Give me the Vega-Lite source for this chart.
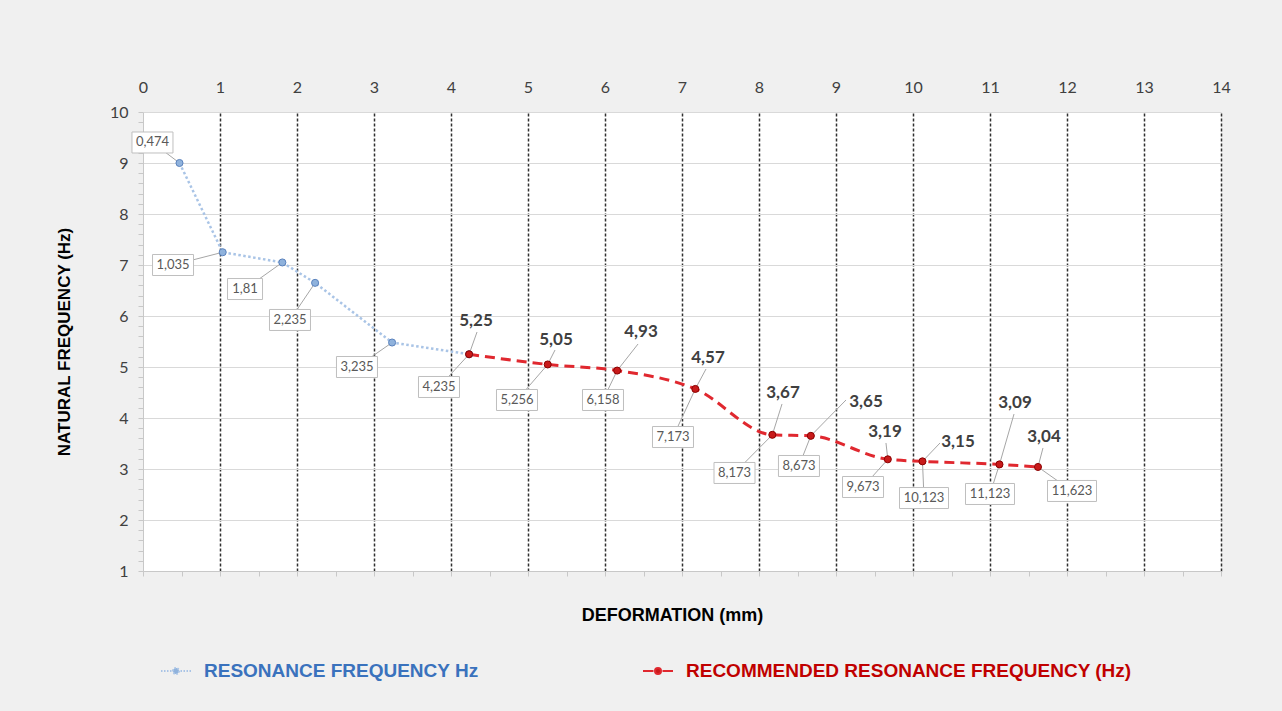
{
  "$schema": "https://vega.github.io/schema/vega-lite/v6.json",
  "width": 1078,
  "height": 459,
  "autosize": {"type": "none"},
  "padding": {"left": 143, "top": 112, "right": 61, "bottom": 140},
  "background": "#f0f0f0",
  "config": {"view": {"fill": "#ffffff", "stroke": null}, "font": "Lato"},
  "datasets": {
    "pts": [
      {"s": "RESONANCE FREQUENCY Hz", "x": 0.474, "f": 9.0},
      {"s": "RESONANCE FREQUENCY Hz", "x": 1.035, "f": 7.25},
      {"s": "RESONANCE FREQUENCY Hz", "x": 1.81, "f": 7.05},
      {"s": "RESONANCE FREQUENCY Hz", "x": 2.235, "f": 6.65},
      {"s": "RESONANCE FREQUENCY Hz", "x": 3.235, "f": 5.48},
      {"s": "RESONANCE FREQUENCY Hz", "x": 4.235, "f": 5.25},
      {"s": "RECOMMENDED RESONANCE FREQUENCY (Hz)", "x": 4.235, "f": 5.25},
      {"s": "RECOMMENDED RESONANCE FREQUENCY (Hz)", "x": 5.256, "f": 5.05},
      {"s": "RECOMMENDED RESONANCE FREQUENCY (Hz)", "x": 6.158, "f": 4.93},
      {"s": "RECOMMENDED RESONANCE FREQUENCY (Hz)", "x": 7.173, "f": 4.57},
      {"s": "RECOMMENDED RESONANCE FREQUENCY (Hz)", "x": 8.173, "f": 3.67},
      {"s": "RECOMMENDED RESONANCE FREQUENCY (Hz)", "x": 8.673, "f": 3.65},
      {"s": "RECOMMENDED RESONANCE FREQUENCY (Hz)", "x": 9.673, "f": 3.19},
      {"s": "RECOMMENDED RESONANCE FREQUENCY (Hz)", "x": 10.123, "f": 3.15},
      {"s": "RECOMMENDED RESONANCE FREQUENCY (Hz)", "x": 11.123, "f": 3.09},
      {"s": "RECOMMENDED RESONANCE FREQUENCY (Hz)", "x": 11.623, "f": 3.04}
    ],
    "blab": [
      {"x": 0.474, "f": 9.0, "bl": "0,474", "bx": 0.123, "by": 9.402},
      {"x": 1.035, "f": 7.25, "bl": "1,035", "bx": 0.39, "by": 7.0},
      {"x": 1.81, "f": 7.05, "bl": "1,81", "bx": 1.325, "by": 6.529},
      {"x": 2.235, "f": 6.65, "bl": "2,235", "bx": 1.909, "by": 5.922},
      {"x": 3.235, "f": 5.48, "bl": "3,235", "bx": 2.779, "by": 5.0},
      {"x": 4.235, "f": 5.25, "bl": "4,235", "bx": 3.844, "by": 4.608},
      {"x": 5.256, "f": 5.05, "bl": "5,256", "bx": 4.857, "by": 4.353},
      {"x": 6.158, "f": 4.93, "bl": "6,158", "bx": 5.974, "by": 4.353},
      {"x": 7.173, "f": 4.57, "bl": "7,173", "bx": 6.883, "by": 3.627},
      {"x": 8.173, "f": 3.67, "bl": "8,173", "bx": 7.682, "by": 2.922},
      {"x": 8.673, "f": 3.65, "bl": "8,673", "bx": 8.519, "by": 3.059},
      {"x": 9.673, "f": 3.19, "bl": "9,673", "bx": 9.351, "by": 2.647},
      {"x": 10.123, "f": 3.15, "bl": "10,123", "bx": 10.143, "by": 2.431},
      {"x": 11.123, "f": 3.09, "bl": "11,123", "bx": 11.0, "by": 2.51},
      {"x": 11.623, "f": 3.04, "bl": "11,623", "bx": 12.065, "by": 2.569}
    ],
    "vlab": [
      {"x": 4.235, "f": 5.25, "vl": "5,25", "vx": 4.325, "vy": 5.902, "lx": 4.338, "ly": 5.686},
      {"x": 5.256, "f": 5.05, "vl": "5,05", "vx": 5.364, "vy": 5.529, "lx": 5.351, "ly": 5.333},
      {"x": 6.158, "f": 4.93, "vl": "4,93", "vx": 6.468, "vy": 5.686, "lx": 6.429, "ly": 5.451},
      {"x": 7.173, "f": 4.57, "vl": "4,57", "vx": 7.338, "vy": 5.176, "lx": 7.312, "ly": 4.961},
      {"x": 8.173, "f": 3.67, "vl": "3,67", "vx": 8.312, "vy": 4.49, "lx": 8.299, "ly": 4.275},
      {"x": 8.673, "f": 3.65, "vl": "3,65", "vx": 9.39, "vy": 4.314, "lx": 9.13, "ly": 4.353},
      {"x": 9.673, "f": 3.19, "vl": "3,19", "vx": 9.636, "vy": 3.725, "lx": 9.649, "ly": 3.51},
      {"x": 10.123, "f": 3.15, "vl": "3,15", "vx": 10.584, "vy": 3.529, "lx": 10.351, "ly": 3.51},
      {"x": 11.123, "f": 3.09, "vl": "3,09", "vx": 11.325, "vy": 4.294, "lx": 11.312, "ly": 4.078},
      {"x": 11.623, "f": 3.04, "vl": "3,04", "vx": 11.701, "vy": 3.627, "lx": 11.688, "ly": 3.412}
    ]
  },
  "resolve": {"axis": {"x": "independent", "y": "independent"}},
  "layer": [
    {
      "data": {"name": "blab"},
      "mark": {"type": "rule", "color": "#a6a6a6", "strokeWidth": 1},
      "encoding": {
        "x": {"field": "x", "type": "quantitative", "scale": {"domain": [0, 14], "nice": false, "zero": false},
          "axis": {"orient": "bottom", "values": [0,0.5,1,1.5,2,2.5,3,3.5,4,4.5,5,5.5,6,6.5,7,7.5,8,8.5,9,9.5,10,10.5,11,11.5,12,12.5,13,13.5,14],
            "labels": false, "ticks": true, "tickSize": 5, "tickColor": "#c8c8c8", "domainColor": "#c8c8c8", "grid": false,
            "title": "DEFORMATION (mm)", "titleFont": "Liberation Sans", "titleFontSize": 18, "titleFontWeight": "bold", "titleColor": "#000000", "titlePadding": 30, "titleX": 529}},
        "y": {"field": "f", "type": "quantitative", "scale": {"domain": [1, 10], "nice": false, "zero": false},
          "axis": {"orient": "left", "values": [1,1.2,1.4,1.6,1.8,2,2.2,2.4,2.6,2.8,3,3.2,3.4,3.6,3.8,4,4.2,4.4,4.6,4.8,5,5.2,5.4,5.6,5.8,6,6.2,6.4,6.6,6.8,7,7.2,7.4,7.6,7.8,8,8.2,8.4,8.6,8.8,9,9.2,9.4,9.6,9.8,10],
            "labelExpr": "abs(datum.value - round(datum.value)) < 0.01 ? format(datum.value, 'd') : ''", "labelOverlap": false, "labelFlush": false,
            "labelFontSize": 16, "labelColor": "#404040", "labelPadding": 10, "tickSize": 5, "tickColor": "#c8c8c8", "domainColor": "#c8c8c8",
            "grid": true, "gridColor": "#d9d9d9", "gridOpacity": {"condition": {"test": "abs(datum.value - round(datum.value)) < 0.01", "value": 1}, "value": 0},
            "title": "NATURAL FREQUENCY (Hz)", "titleFont": "Liberation Sans", "titleFontSize": 17, "titleFontWeight": "bold", "titleColor": "#000000", "titlePadding": 36}},
        "x2": {"field": "bx"},
        "y2": {"field": "by"}
      }
    },
    {
      "data": {"name": "vlab"},
      "mark": {"type": "rule", "color": "#a6a6a6", "strokeWidth": 1},
      "encoding": {
        "x": {"field": "x", "type": "quantitative", "scale": {"domain": [0, 14], "nice": false, "zero": false}, "axis": null},
        "y": {"field": "f", "type": "quantitative", "scale": {"domain": [1, 10], "nice": false, "zero": false}, "axis": null},
        "x2": {"field": "lx"},
        "y2": {"field": "ly"}
      }
    },
    {
      "data": {"name": "pts"},
      "transform": [{"filter": "datum.s == 'RESONANCE FREQUENCY Hz'"}],
      "mark": {"type": "line", "strokeDash": [2.5, 2.5], "strokeWidth": 2.5},
      "encoding": {
        "x": {"field": "x", "type": "quantitative", "scale": {"domain": [0, 14], "nice": false, "zero": false},
          "axis": {"orient": "top", "values": [0,1,2,3,4,5,6,7,8,9,10,11,12,13,14], "ticks": false, "domain": false, "labelFlush": false,
            "labelFontSize": 16, "labelColor": "#404040", "labelPadding": 17,
            "grid": true, "gridColor": "#303030", "gridDash": [3, 2], "gridWidth": 1.5,
            "gridOpacity": {"condition": {"test": "datum.value == 0", "value": 0}, "value": 1}, "title": null}},
        "y": {"field": "f", "type": "quantitative", "scale": {"domain": [1, 10], "nice": false, "zero": false}, "axis": null},
        "color": {"field": "s", "type": "nominal",
          "scale": {"domain": ["RESONANCE FREQUENCY Hz", "RECOMMENDED RESONANCE FREQUENCY (Hz)"], "range": ["#a9c4e6", "#e0282f"]},
          "legend": {"orient": "none", "legendX": 17, "legendY": 543, "direction": "horizontal", "title": null,
            "symbolType": "M-1,0H-0.3M0.3,0H1M-0.2,0A0.2,0.2 0 1,1 0.2,0A0.2,0.2 0 1,1 -0.2,0Z",
            "symbolSize": 900, "symbolStrokeWidth": 2, "labelFont": "Liberation Sans", "labelFontSize": 19, "labelFontWeight": "bold",
            "labelOffset": 12, "columnPadding": 160, "padding": 0, "labelLimit": 600,
            "symbolFillColor": {"expr": "datum.value == 'RESONANCE FREQUENCY Hz' ? '#7fa3d3' : '#c00000'"},
            "symbolDash": {"expr": "datum.value == 'RESONANCE FREQUENCY Hz' ? [1.5,1.5] : [30,0]"},
            "labelColor": {"expr": "datum.value == 'RESONANCE FREQUENCY Hz' ? '#3a72bd' : '#c00000'"}
          }}
      }
    },
    {
      "data": {"name": "pts"},
      "transform": [{"filter": "datum.s == 'RECOMMENDED RESONANCE FREQUENCY (Hz)'"}],
      "mark": {"type": "line", "strokeDash": [10, 6], "strokeWidth": 3, "interpolate": "monotone"},
      "encoding": {
        "x": {"field": "x", "type": "quantitative", "scale": {"domain": [0, 14], "nice": false, "zero": false}, "axis": null},
        "y": {"field": "f", "type": "quantitative", "scale": {"domain": [1, 10], "nice": false, "zero": false}, "axis": null},
        "color": {"field": "s", "type": "nominal",
          "scale": {"domain": ["RESONANCE FREQUENCY Hz", "RECOMMENDED RESONANCE FREQUENCY (Hz)"], "range": ["#a9c4e6", "#e0282f"]}}
      }
    },
    {
      "data": {"name": "pts"},
      "mark": {"type": "point", "filled": true, "size": 50, "opacity": 1, "strokeWidth": 1},
      "encoding": {
        "x": {"field": "x", "type": "quantitative", "scale": {"domain": [0, 14], "nice": false, "zero": false}, "axis": null},
        "y": {"field": "f", "type": "quantitative", "scale": {"domain": [1, 10], "nice": false, "zero": false}, "axis": null},
        "fill": {"field": "s", "type": "nominal", "scale": {"domain": ["RESONANCE FREQUENCY Hz", "RECOMMENDED RESONANCE FREQUENCY (Hz)"], "range": ["#8fb2dc", "#c81a1a"]}, "legend": null},
        "stroke": {"field": "s", "type": "nominal", "scale": {"domain": ["RESONANCE FREQUENCY Hz", "RECOMMENDED RESONANCE FREQUENCY (Hz)"], "range": ["#5a82bd", "#8a0000"]}, "legend": null}
      }
    },
    {
      "data": {"name": "blab"},
      "transform": [{"calculate": "length(datum.bl)", "as": "len"}],
      "mark": {"type": "point", "filled": true, "size": 2500, "fill": "#ffffff", "stroke": "#bfbfbf", "strokeWidth": 1, "opacity": 1, "fillOpacity": 1},
      "encoding": {
        "x": {"field": "bx", "type": "quantitative", "scale": {"domain": [0, 14], "nice": false, "zero": false}, "axis": null},
        "y": {"field": "by", "type": "quantitative", "scale": {"domain": [1, 10], "nice": false, "zero": false}, "axis": null},
        "shape": {"field": "len", "type": "nominal",
          "scale": {"domain": [4, 5, 6], "range": ["M-0.7,-0.42H0.7V0.42H-0.7Z", "M-0.82,-0.42H0.82V0.42H-0.82Z", "M-0.98,-0.42H0.98V0.42H-0.98Z"]},
          "legend": null}
      }
    },
    {
      "data": {"name": "blab"},
      "mark": {"type": "text", "font": "Lato", "fontSize": 13, "color": "#595959", "align": "center", "baseline": "middle"},
      "encoding": {
        "x": {"field": "bx", "type": "quantitative", "scale": {"domain": [0, 14], "nice": false, "zero": false}, "axis": null},
        "y": {"field": "by", "type": "quantitative", "scale": {"domain": [1, 10], "nice": false, "zero": false}, "axis": null},
        "text": {"field": "bl"}
      }
    },
    {
      "data": {"name": "vlab"},
      "mark": {"type": "text", "font": "Lato", "fontSize": 17, "fontWeight": "bold", "color": "#404040", "align": "center", "baseline": "middle"},
      "encoding": {
        "x": {"field": "vx", "type": "quantitative", "scale": {"domain": [0, 14], "nice": false, "zero": false}, "axis": null},
        "y": {"field": "vy", "type": "quantitative", "scale": {"domain": [1, 10], "nice": false, "zero": false}, "axis": null},
        "text": {"field": "vl"}
      }
    }
  ]
}
